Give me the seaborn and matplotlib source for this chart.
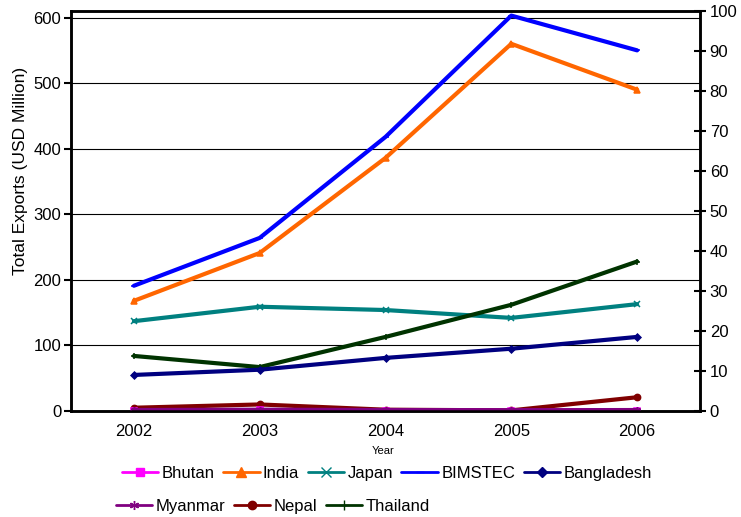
import matplotlib
matplotlib.use("Agg")
import matplotlib.pyplot as plt
from matplotlib.lines import Line2D
import seaborn as sns
import pandas as pd

sns.set_style("white")
plt.rcParams["font.family"] = ["Liberation Sans", "DejaVu Sans"]
plt.rcParams["text.color"] = "black"
plt.rcParams["axes.labelcolor"] = "black"
plt.rcParams["xtick.color"] = "black"
plt.rcParams["ytick.color"] = "black"

years = ["2002", "2003", "2004", "2005", "2006"]
bhutan = [0.5, 0.8, 0.6, 0.4, 0.6]
india = [168, 241, 386, 560, 490]
japan = [137, 159, 154, 142, 163]
bimstec = [191, 264, 418, 603, 550]
bangladesh = [55, 63, 81, 95, 113]
myanmar = [1.5, 2.0, 1.5, 1.2, 1.5]
nepal = [5, 10, 2, 1, 21]
thailand = [84, 67, 113, 162, 228]

series = [
    ("Bhutan", bhutan, "#FF00FF", "s", 4.5),
    ("India", india, "#FF6600", "^", 5),
    ("Japan", japan, "#008080", "x", 5),
    ("BIMSTEC", bimstec, "#0000FF", "_", 4),
    ("Bangladesh", bangladesh, "#000080", "D", 3.5),
    ("Myanmar", myanmar, "#800080", (6, 2, 0), 5),
    ("Nepal", nepal, "#800000", "o", 4.5),
    ("Thailand", thailand, "#003300", "+", 5),
]

fig = plt.figure(figsize=(7.41, 5.17), dpi=100)
ax = fig.add_axes([0.0958, 0.205, 0.8489, 0.7737])

# draw order: small series last so they sit on top near zero
draw_order = ["BIMSTEC", "India", "Japan", "Thailand", "Bangladesh", "Nepal", "Bhutan", "Myanmar"]
lookup = {s[0]: s for s in series}
for name in draw_order:
    _, vals, color, marker, msize = lookup[name]
    df = pd.DataFrame({"x": range(len(years)), "y": vals})
    sns.lineplot(data=df, x="x", y="y", ax=ax, color=color, marker=marker,
                 markersize=msize, markeredgecolor=color, markeredgewidth=1.1,
                 linewidth=3, zorder=3)

ax.set_xlim(-0.5, len(years) - 0.5)
ax.set_ylim(0, 610)
ax.set_yticks(range(0, 601, 100))
ax.set_xticks(range(len(years)))
ax.set_xticklabels(years)
ax.set_xticks([i + 0.5 for i in range(-1, len(years))], minor=True)
ax.tick_params(axis="x", which="major", length=0, pad=9, labelsize=12, labelcolor="black")
ax.tick_params(axis="x", which="minor", length=5, width=1.5, direction="out", color="black")
ax.tick_params(axis="y", length=5, width=1.5, direction="out", color="black",
               labelsize=12, pad=2, labelcolor="black")
ax.yaxis.grid(True, color="black", linewidth=0.8)
ax.set_axisbelow(True)
for sp in ax.spines.values():
    sp.set_color("black")
    sp.set_linewidth(1.8)

ax.set_xlabel("Year", fontsize=8, color="black")
ax.xaxis.set_label_coords(0.496, -0.088)
ax.set_ylabel("Total Exports (USD Million)", fontsize=12.5, color="black")
ax.yaxis.set_label_coords(-0.069, 0.6)

ax2 = ax.twinx()
ax2.set_ylim(0, 100)
ax2.set_yticks(range(0, 101, 10))
ax2.tick_params(axis="y", length=8, width=1.5, direction="inout", color="black",
                labelsize=12, pad=3, labelcolor="black")
for sp in ax2.spines.values():
    sp.set_color("black")
    sp.set_linewidth(1.8)
ax2.grid(False)

def handle(name):
    _, _, color, marker, msize = lookup[name]
    return Line2D([], [], color=color, marker=marker, markersize=msize + 1.5,
                  markeredgecolor=color, linewidth=2)

row1 = ["Bhutan", "India", "Japan", "BIMSTEC", "Bangladesh"]
row2 = ["Myanmar", "Nepal", "Thailand"]
leg1 = fig.legend([handle(n) for n in row1], row1, loc="center",
                  bbox_to_anchor=(0.522, 0.085), ncol=5, frameon=False,
                  fontsize=12, handlelength=2.2, handletextpad=0.2,
                  columnspacing=0.5, labelcolor="black")
leg2 = fig.legend([handle(n) for n in row2], row2, loc="center",
                  bbox_to_anchor=(0.368, 0.021), ncol=3, frameon=False,
                  fontsize=12, handlelength=2.2, handletextpad=0.2,
                  columnspacing=0.5, labelcolor="black")

fig.savefig("out.png", dpi=100)
